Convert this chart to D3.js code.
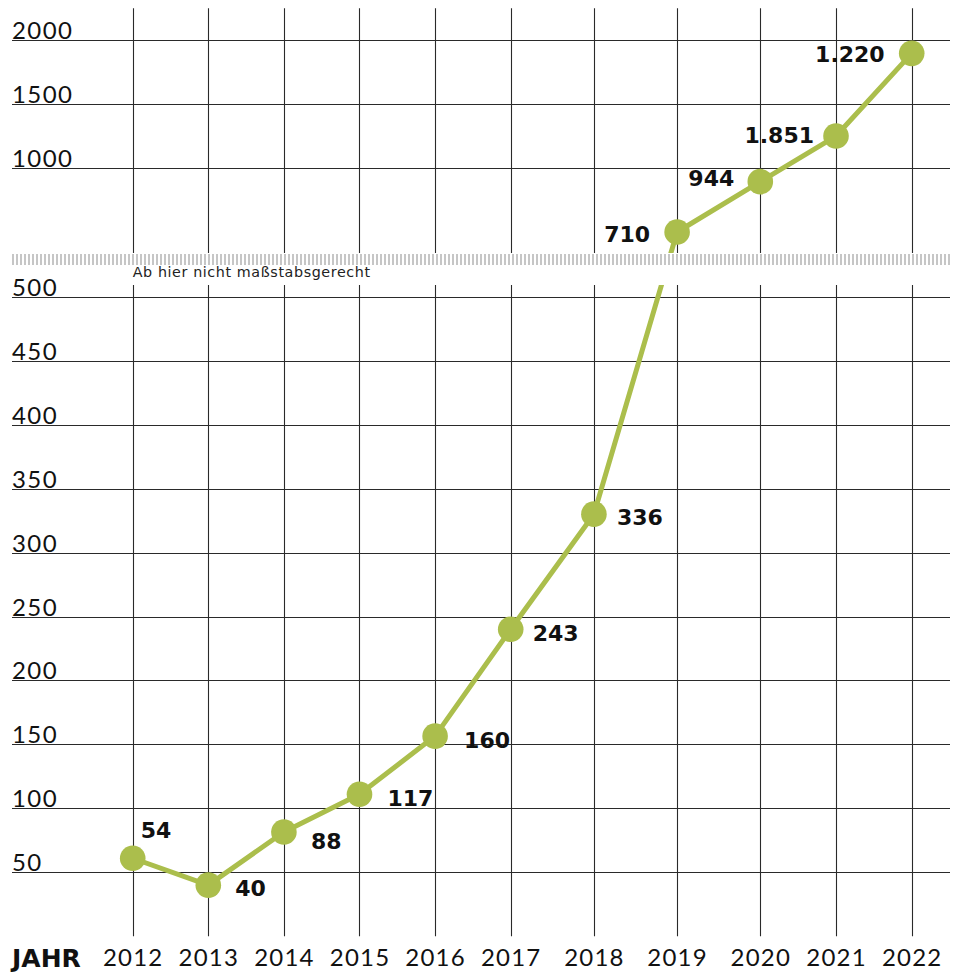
<!DOCTYPE html>
<html>
<head>
<meta charset="utf-8">
<script src="https://cdn.jsdelivr.net/npm/d3@7"></script>
<style>
  html, body { margin: 0; padding: 0; background: #fff; }
  svg { display: block; }
</style>
</head>
<body>
<script>
// ---- data ----
const years = [2012, 2013, 2014, 2015, 2016, 2017, 2018, 2019, 2020, 2021, 2022];
// plotted positions (value units)
const values = [61, 40, 81.5, 111, 156.5, 240, 330, 752, 948, 1252, 1898];
// printed labels
const labels = ["54", "40", "88", "117", "160", "243", "336", "710", "944", "1.851", "1.220"];
const yTicksTop = [2000, 1500, 1000];
const yTicksBottom = [500, 450, 400, 350, 300, 250, 200, 150, 100, 50];
const axisTitle = "JAHR";
const breakNote = "Ab hier nicht maßstabsgerecht";

// ---- layout (label placement: dx, dy, anchor) ----
const labelPlace = [
  [8, -20, "start"], [27, 11, "start"], [27, 17, "start"], [28, 12, "start"],
  [29, 12, "start"], [22, 12, "start"], [23, 11, "start"],
  [-27, 10, "end"], [-26, 4, "end"], [-22, 7, "end"], [-27, 9, "end"]
];

const W = 965, H = 972;
const green = "#abbe4c";
const gridColor = "#2a2a2a";

const svg = d3.select("body").append("svg").attr("width", W).attr("height", H);

// x: piecewise linear (column spacing in the original is not uniform)
const x = d3.scaleLinear()
  .domain([2012, 2017, 2020, 2022])
  .range([132.7, 510.7, 760.3, 911.7]);

// y: broken scale (0–500 true scale, compressed 500–1000, 1000+ at 1/10 scale)
const y = d3.scaleLinear()
  .domain([0, 500, 1000, 2250])
  .range([936.3, 296.7, 168.3, 8.3]);

const gridLeft = 12, gridRight = 950;

// vertical grid lines
svg.append("g").selectAll("line").data(years).join("line")
  .attr("x1", d => Math.round(x(d)) + 0.5).attr("x2", d => Math.round(x(d)) + 0.5)
  .attr("y1", y(2250)).attr("y2", y(0))
  .attr("stroke", gridColor).attr("stroke-width", 1.1);

// horizontal grid lines
const allTicks = yTicksTop.concat(yTicksBottom);
svg.append("g").selectAll("line").data(allTicks).join("line")
  .attr("x1", gridLeft).attr("x2", gridRight)
  .attr("y1", d => Math.round(y(d)) + 0.5).attr("y2", d => Math.round(y(d)) + 0.5)
  .attr("stroke", gridColor).attr("stroke-width", 1.1);

// data line
const line = d3.line().x((d, i) => x(years[i])).y(d => y(d));
svg.append("path").datum(values)
  .attr("d", line)
  .attr("fill", "none").attr("stroke", green).attr("stroke-width", 5)
  .attr("stroke-linejoin", "round");

// break band
svg.append("rect").attr("x", 0).attr("y", 253).attr("width", W).attr("height", 32).attr("fill", "#fff");
svg.append("line")
  .attr("x1", gridLeft).attr("x2", gridRight)
  .attr("y1", 259.5).attr("y2", 259.5)
  .attr("stroke", "#c6c6c6").attr("stroke-width", 11)
  .attr("stroke-dasharray", "2,2");
svg.append("text").text(breakNote)
  .attr("x", x(2012)).attr("y", 277)
  .attr("font-family", "DejaVu Sans, sans-serif").attr("font-size", 14.3)
  .attr("letter-spacing", 0.6)
  .attr("fill", "#222");

// y tick labels
svg.append("g").selectAll("text").data(allTicks).join("text")
  .text(d => d)
  .attr("x", gridLeft).attr("y", d => Math.round(y(d)) - 1)
  .attr("font-family", "Lato, sans-serif").attr("font-weight", 400)
  .attr("font-size", 24).attr("letter-spacing", 1.4)
  .attr("fill", "#111");

// x axis (year labels)
const xAxis = d3.axisBottom(x).tickValues(years).tickFormat(d3.format("d")).tickSize(0).tickPadding(0);
const gx = svg.append("g").attr("transform", "translate(0,949)").call(xAxis);
gx.select(".domain").remove();
gx.selectAll("text")
  .attr("dy", "0.71em").attr("y", 0)
  .attr("font-family", "Lato, sans-serif").attr("font-weight", 400)
  .attr("font-size", 24).attr("letter-spacing", 1.2)
  .attr("fill", "#111");
svg.append("text").text(axisTitle)
  .attr("x", gridLeft).attr("y", 966.5)
  .attr("font-family", "DejaVu Sans, sans-serif").attr("font-weight", "bold")
  .attr("font-size", 25).attr("fill", "#111");

// points
svg.append("g").selectAll("circle").data(values).join("circle")
  .attr("cx", (d, i) => x(years[i])).attr("cy", d => y(d))
  .attr("r", 12.8).attr("fill", green);

// value labels
svg.append("g").selectAll("text").data(labels).join("text")
  .text(d => d)
  .attr("x", (d, i) => x(years[i]) + labelPlace[i][0])
  .attr("y", (d, i) => y(values[i]) + labelPlace[i][1])
  .attr("text-anchor", (d, i) => labelPlace[i][2])
  .attr("font-family", "DejaVu Sans, sans-serif").attr("font-weight", "bold")
  .attr("font-size", 22).attr("fill", "#111");
</script>
</body>
</html>
